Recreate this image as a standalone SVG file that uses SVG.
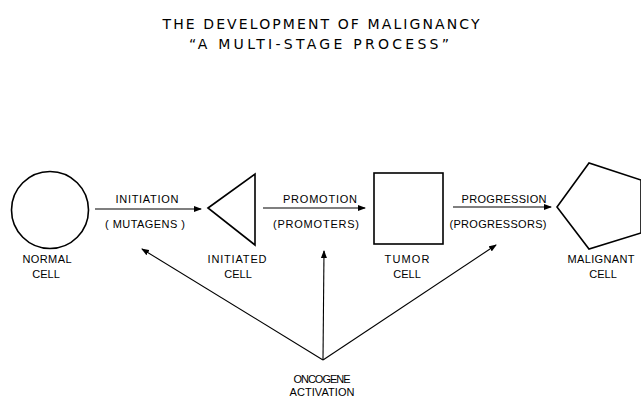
<svg xmlns="http://www.w3.org/2000/svg" width="641" height="397" viewBox="0 0 641 397">
<style>
text{font-family:"Liberation Sans",Arial,sans-serif;fill:#000;text-anchor:middle}
.t{font-family:"DejaVu Sans","Liberation Sans",sans-serif;font-size:14px}
.l{font-size:11px}
.s{fill:none;stroke:#000;stroke-width:1.6}
.c{fill:none;stroke:#000;stroke-width:1.1}
</style>
<defs>
<marker id="ah" markerWidth="8" markerHeight="6" refX="7" refY="3" orient="auto" markerUnits="userSpaceOnUse">
<path d="M0,0 L8,3 L0,6 Z" fill="#000"/>
</marker>
</defs>
<rect width="641" height="397" fill="#fff"/>
<g id="title">
<text class="t" x="321" y="29" textLength="317" lengthAdjust="spacing">THE DEVELOPMENT OF MALIGNANCY</text>
<text class="t" x="319" y="49" textLength="260" lengthAdjust="spacing">“A MULTI-STAGE PROCESS”</text>
</g>
<g id="normal">
<circle class="s" cx="50" cy="210" r="38.5"/>
<text class="l" x="47" y="263" textLength="49" lengthAdjust="spacing">NORMAL</text>
<text class="l" x="46" y="278">CELL</text>
</g>
<g id="initiated">
<polygon class="s" points="208,208 255,174 255,245"/>
<text class="l" x="237" y="263" textLength="59" lengthAdjust="spacing">INITIATED</text>
<text class="l" x="238" y="278">CELL</text>
</g>
<g id="tumor">
<rect class="s" x="374" y="173" width="69" height="71"/>
<text class="l" x="407" y="263" textLength="45" lengthAdjust="spacing">TUMOR</text>
<text class="l" x="407" y="278">CELL</text>
</g>
<g id="malignant">
<polygon class="s" points="557,207 589,163 641,180 641,233 589,249"/>
<text class="l" x="601" y="263" textLength="67" lengthAdjust="spacing">MALIGNANT</text>
<text class="l" x="603" y="278">CELL</text>
</g>
<g id="oncogene">
<text class="l" x="322" y="383" textLength="57" lengthAdjust="spacing">ONCOGENE</text>
<text class="l" x="322" y="396" textLength="65" lengthAdjust="spacing">ACTIVATION</text>
</g>
<g id="connectors">
<line class="c" x1="95" y1="209" x2="201" y2="209" marker-end="url(#ah)"/>
<line class="c" x1="263" y1="208" x2="365" y2="208" marker-end="url(#ah)"/>
<line class="c" x1="453" y1="207" x2="551" y2="207" marker-end="url(#ah)"/>
<line class="c" x1="323" y1="360" x2="142" y2="249" marker-end="url(#ah)"/>
<line class="c" x1="323" y1="360" x2="324" y2="251" marker-end="url(#ah)"/>
<line class="c" x1="323" y1="360" x2="496" y2="245" marker-end="url(#ah)"/>
<text class="l" x="147" y="203" textLength="63" lengthAdjust="spacing">INITIATION</text>
<text class="l" x="145" y="228" textLength="80" lengthAdjust="spacing">( MUTAGENS )</text>
<text class="l" x="320" y="203" textLength="74" lengthAdjust="spacing">PROMOTION</text>
<text class="l" x="316" y="228" textLength="86" lengthAdjust="spacing">(PROMOTERS)</text>
<text class="l" x="504" y="203" textLength="85" lengthAdjust="spacing">PROGRESSION</text>
<text class="l" x="498" y="228" textLength="97" lengthAdjust="spacing">(PROGRESSORS)</text>
</g>
</svg>
